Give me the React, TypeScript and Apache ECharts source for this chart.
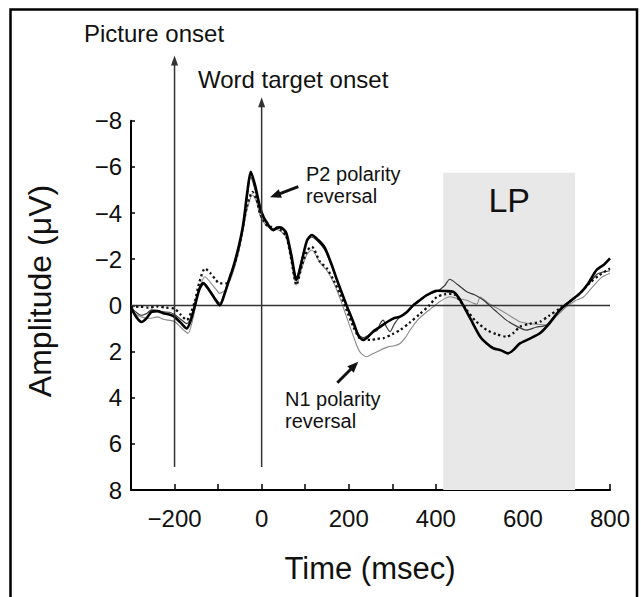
import React, { useEffect, useRef } from "react";
import * as echarts from "echarts";

const FONT = '"Liberation Sans", Arial, Helvetica, sans-serif';

// Time (ms), amplitude (µV) pairs for each waveform
const thickBlack: [number, number][] = [
  [-300, 0.1], [-288, 0.5], [-276, 0.72], [-264, 0.55], [-253, 0.28], [-240, 0.25], [-226, 0.34], [-212, 0.4],
  [-200, 0.5], [-186, 0.75], [-172, 1.0], [-162, 0.6], [-153, 0.0], [-143, -0.7], [-134, -0.95], [-122, -0.7],
  [-108, -0.3], [-96, 0.0], [-85, -0.5], [-75, -1.1], [-65, -1.67], [-52, -2.6], [-42, -3.55], [-33, -4.9],
  [-25, -5.79], [-15, -5.2], [-4, -4.27], [5, -3.8], [11, -3.62], [20, -3.35], [27, -3.26], [35, -3.35],
  [42, -3.38], [50, -3.3], [57, -3.12], [68, -2.2], [80, -1.1], [92, -1.9], [104, -2.8], [115, -3.05],
  [130, -2.83], [145, -2.5], [160, -1.8], [175, -1.0], [195, 0.0], [210, 0.7], [222, 1.3], [233, 1.5],
  [245, 1.35], [258, 1.1], [272, 0.93], [290, 0.7], [305, 0.55], [318, 0.49], [333, 0.3], [348, 0.0],
  [364, -0.23], [380, -0.45], [402, -0.63], [420, -0.62], [440, -0.59], [452, -0.35], [463, 0.0], [480, 0.6],
  [502, 1.36], [517, 1.65], [532, 1.86], [550, 1.95], [566, 2.08], [580, 1.9], [593, 1.65], [615, 1.45],
  [639, 1.21], [660, 0.8], [685, 0.2], [710, -0.2], [731, -0.52], [750, -0.95], [769, -1.53], [785, -1.75],
  [800, -2.04],
];

const thinBlack: [number, number][] = [
  [-300, 0.1], [-288, 0.3], [-276, 0.43], [-264, 0.35], [-253, 0.2], [-240, 0.22], [-226, 0.28], [-212, 0.3],
  [-200, 0.4], [-186, 0.6], [-172, 0.79], [-162, 0.5], [-153, -0.1], [-143, -0.75], [-134, -1.0], [-122, -0.75],
  [-108, -0.35], [-96, -0.1], [-85, -0.55], [-75, -1.1], [-65, -1.65], [-52, -2.5], [-42, -3.4], [-33, -4.7],
  [-25, -5.57], [-15, -5.0], [-4, -4.1], [5, -3.75], [11, -3.55], [20, -3.35], [27, -3.3], [35, -3.4],
  [42, -3.4], [50, -3.3], [57, -3.05], [68, -2.1], [80, -1.15], [92, -2.0], [104, -2.8], [115, -2.95],
  [130, -2.75], [145, -2.4], [160, -1.75], [175, -0.95], [195, 0.0], [210, 0.7], [222, 1.25], [233, 1.4],
  [245, 1.3], [258, 1.15], [265, 1.1], [272, 0.8], [279, 0.64], [287, 0.95], [295, 1.14], [305, 0.8],
  [318, 0.49], [333, 0.3], [348, 0.0], [364, -0.25], [380, -0.45], [402, -0.6], [420, -0.85], [432, -1.13],
  [450, -0.9], [471, -0.59], [490, -0.45], [509, -0.23], [535, 0.2], [562, 0.64], [585, 0.9], [608, 1.07],
  [630, 0.95], [654, 0.85], [675, 0.4], [700, -0.05], [725, -0.45], [750, -0.9], [770, -1.35], [785, -1.45],
  [800, -1.5],
];

const dotted: [number, number][] = [
  [-300, 0.1], [-280, 0.05], [-260, 0.1], [-240, 0.05], [-220, 0.1], [-200, 0.15], [-186, 0.4], [-172, 0.64],
  [-162, 0.3], [-153, -0.2], [-143, -1.0], [-130, -1.6], [-118, -1.4], [-105, -1.1], [-96, -0.95], [-80, -0.95],
  [-68, -1.5], [-57, -2.1], [-45, -3.2], [-34, -4.27], [-21, -4.92], [-12, -4.6], [-4, -4.0], [5, -3.65],
  [11, -3.48], [22, -3.4], [34, -3.33], [45, -3.25], [57, -2.97], [68, -2.0], [80, -0.88], [92, -1.7],
  [104, -2.35], [115, -2.54], [134, -1.89], [150, -1.6], [165, -1.1], [180, -0.5], [195, 0.2], [210, 0.9],
  [222, 1.35], [233, 1.5], [250, 1.5], [265, 1.45], [279, 1.43], [300, 1.25], [318, 1.07], [340, 0.75],
  [364, 0.36], [385, 0.0], [402, -0.36], [420, -0.48], [440, -0.5], [455, -0.2], [471, 0.2], [490, 0.65],
  [517, 1.07], [540, 1.25], [562, 1.36], [578, 1.2], [593, 0.93], [615, 0.8], [639, 0.71], [660, 0.45],
  [685, 0.13], [710, -0.2], [731, -0.52], [755, -1.0], [775, -1.3], [800, -1.6],
];

const gray: [number, number][] = [
  [-300, 0.2], [-288, 0.4], [-276, 0.5], [-264, 0.55], [-253, 0.56], [-240, 0.5], [-226, 0.6], [-215, 0.64],
  [-200, 0.7], [-186, 0.95], [-169, 1.21], [-158, 0.6], [-148, -0.3], [-138, -1.0], [-130, -1.24], [-118, -1.0],
  [-105, -0.7], [-96, -0.52], [-82, -0.7], [-68, -1.3], [-57, -2.0], [-45, -3.0], [-34, -4.1], [-21, -4.78],
  [-12, -4.5], [-4, -3.9], [5, -3.6], [11, -3.45], [22, -3.35], [34, -3.3], [45, -3.2], [57, -2.9],
  [68, -1.9], [80, -0.88], [92, -1.6], [104, -2.2], [115, -2.4], [134, -1.85], [150, -1.5], [165, -1.0],
  [180, -0.3], [195, 0.5], [210, 1.3], [225, 2.0], [241, 2.23], [255, 2.1], [272, 1.94], [290, 1.8],
  [305, 1.75], [318, 1.65], [330, 1.4], [341, 1.07], [360, 0.6], [378, 0.3], [394, 0.06], [412, -0.2],
  [432, -0.37], [450, -0.3], [471, -0.22], [485, -0.1], [494, -0.05], [502, -0.36], [520, -0.1], [548, 0.2],
  [570, 0.45], [593, 0.71], [620, 0.8], [654, 0.85], [675, 0.5], [700, 0.06], [720, -0.2], [739, -0.36],
  [760, -0.8], [780, -1.2], [800, -1.39],
];

// Axis definitions
const xRange = [-300, 800];
const yRange = [-8, 8];
const xLabelValues = [-200, 0, 200, 400, 600, 800];

// Late positivity window
const lpWindow = { start: 417, end: 720, top: -5.75, label: "LP" };

// Event onsets: [time, bottom amplitude, arrow-tip amplitude]
const onsets: [number, number, number][] = [
  [-200, 7.0, -10.82],
  [0, 7.0, -9.02],
];

function fmt(v: number): string {
  return v < 0 ? "\u2212" + Math.abs(v) : String(v);
}

function arrow(
  tx: number, ty: number, sx: number, sy: number,
  lw: number, hl: number, hw: number, color: string
): any[] {
  const dx = tx - sx;
  const dy = ty - sy;
  const L = Math.hypot(dx, dy);
  const ux = dx / L;
  const uy = dy / L;
  const bx = tx - ux * hl;
  const by = ty - uy * hl;
  const px = -uy;
  const py = ux;
  return [
    {
      type: "line",
      shape: { x1: sx, y1: sy, x2: bx + ux, y2: by + uy },
      style: { stroke: color, lineWidth: lw },
      z: 10,
    },
    {
      type: "polygon",
      shape: {
        points: [
          [tx, ty],
          [bx + (px * hw) / 2, by + (py * hw) / 2],
          [bx - (px * hw) / 2, by - (py * hw) / 2],
        ],
      },
      style: { fill: color },
      z: 10,
    },
  ];
}

export default function App() {
  const ref = useRef<HTMLDivElement>(null);

  useEffect(() => {
    if (!ref.current) return;
    const chart = echarts.init(ref.current, null, { renderer: "svg" });

    const option: any = {
      animation: false,
      backgroundColor: "#ffffff",
      grid: { left: 131, right: 31, top: 120.7, bottom: 107 },
      xAxis: {
        type: "value",
        min: xRange[0],
        max: xRange[1],
        interval: 100,
        splitLine: { show: false },
        axisLine: { show: true, onZero: false, lineStyle: { color: "#000", width: 2.2 } },
        axisTick: { show: true, inside: true, length: 6, lineStyle: { color: "#000", width: 1.5 } },
        axisLabel: {
          margin: 16,
          fontSize: 24,
          fontFamily: FONT,
          color: "#111",
          formatter: (v: number) => (xLabelValues.indexOf(v) >= 0 ? fmt(v) : ""),
        },
      },
      yAxis: {
        type: "value",
        min: yRange[0],
        max: yRange[1],
        interval: 2,
        inverse: true,
        splitLine: { show: false },
        axisLine: { show: true, onZero: false, lineStyle: { color: "#000", width: 2 } },
        axisTick: { show: true, inside: true, length: 4, lineStyle: { color: "#000", width: 1.5 } },
        axisLabel: {
          margin: 9,
          fontSize: 24,
          fontFamily: FONT,
          color: "#111",
          formatter: (v: number) => fmt(v),
        },
      },
      series: [
        {
          type: "line",
          data: [],
          z: 1,
          silent: true,
          markArea: {
            silent: true,
            itemStyle: { color: "#e8e8e8" },
            label: {
              show: true,
              position: "insideTop",
              distance: 10,
              fontSize: 34,
              fontFamily: FONT,
              color: "#111",
            },
            data: [
              [
                { name: lpWindow.label, xAxis: lpWindow.start, yAxis: lpWindow.top },
                { xAxis: lpWindow.end, yAxis: yRange[1] },
              ],
            ],
          },
          markLine: {
            silent: true,
            symbol: ["none", "none"],
            label: { show: false },
            lineStyle: { color: "#333", width: 1.3, type: "solid" },
            data: [{ yAxis: 0 }],
          },
        },
        {
          name: "gray",
          type: "line",
          data: gray,
          z: 3,
          smooth: 0.25,
          showSymbol: false,
          lineStyle: { color: "#8a8a8a", width: 1.1 },
        },
        {
          name: "thin",
          type: "line",
          data: thinBlack,
          z: 4,
          smooth: 0.25,
          showSymbol: false,
          lineStyle: { color: "#3a3a3a", width: 1.2 },
        },
        {
          name: "dotted",
          type: "line",
          data: dotted,
          z: 5,
          smooth: 0.25,
          showSymbol: false,
          lineStyle: { color: "#111", width: 2.3, type: [2.3, 2.8], cap: "butt" },
        },
        {
          name: "thick",
          type: "line",
          data: thickBlack,
          z: 6,
          smooth: 0.25,
          showSymbol: false,
          lineStyle: { color: "#000", width: 2.6 },
        },
      ],
    };

    chart.setOption(option);

    const px = (x: number, y: number): number[] =>
      chart.convertToPixel({ gridIndex: 0 }, [x, y]) as number[];

    const graphic: any[] = [];

    // Onset arrows
    onsets.forEach(([t, bottom, tip]) => {
      const b = px(t, bottom);
      const tp = px(t, tip);
      graphic.push(...arrow(tp[0], tp[1], b[0], b[1], 1.5, 10, 7, "#333"));
    });

    // Polarity-reversal arrows
    graphic.push(...arrow(270, 197.3, 298.3, 186.7, 3, 11, 9, "#111"));
    graphic.push(...arrow(358.3, 361.7, 337.3, 382.7, 3, 11, 9, "#111"));

    const txt = (text: string, x: number, y: number, size: number, align = "left", rotation = 0) => ({
      type: "text",
      x,
      y,
      rotation,
      z: 11,
      style: {
        text,
        fill: "#111",
        fontSize: size,
        fontFamily: FONT,
        align,
        verticalAlign: "middle",
        lineHeight: 22,
      },
    });

    graphic.push(txt("Picture onset", 84, 33, 24));
    graphic.push(txt("Word target onset", 198, 79, 24));
    graphic.push(txt("P2 polarity\nreversal", 306, 185, 20));
    graphic.push(txt("N1 polarity\nreversal", 285, 410, 20));
    graphic.push(txt("Time (msec)", 370, 568, 31, "center"));
    graphic.push(txt("Amplitude (\u03bcV)", 40, 291, 32, "center", Math.PI / 2));

    // Frame around figure
    graphic.push({
      type: "polyline",
      z: 12,
      shape: { points: [[637, 700], [637, 9.5], [10.5, 9.5], [10.5, 700]] },
      style: { stroke: "#000", lineWidth: 2.5, fill: "none" },
    });

    chart.setOption({ graphic });

    return () => chart.dispose();
  }, []);

  return (
    <div
      ref={ref}
      style={{ position: "absolute", left: 0, top: 0, width: 641, height: 597 }}
    />
  );
}
